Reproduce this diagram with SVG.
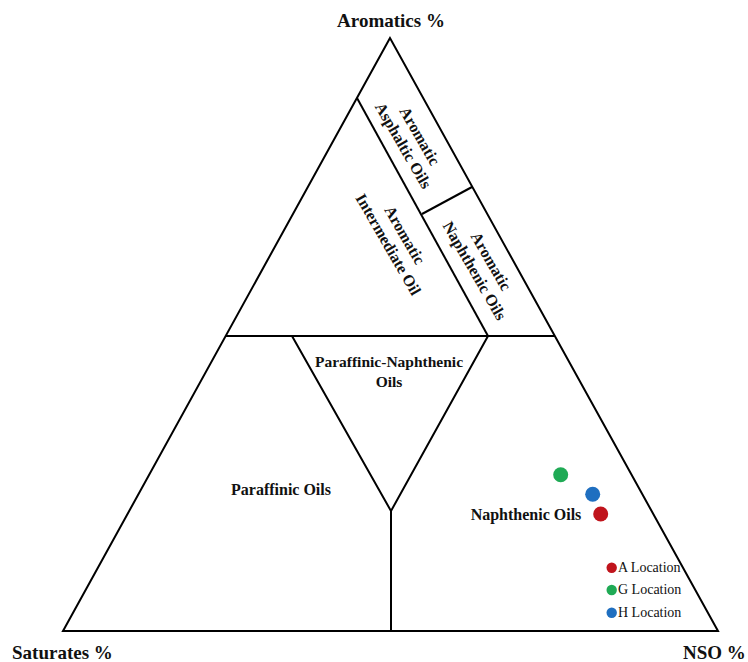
<svg xmlns="http://www.w3.org/2000/svg" width="748" height="662" viewBox="0 0 748 662">
<style>
.ln{stroke:#000;stroke-width:2;fill:none;stroke-linejoin:miter}
.ax{font-family:"Liberation Serif","Times New Roman",serif;font-weight:bold;font-size:19px;fill:#111}
.lb{font-family:"Liberation Serif","Times New Roman",serif;font-weight:bold;font-size:16px;fill:#111;text-anchor:middle}
.lg{font-family:"Liberation Serif","Times New Roman",serif;font-size:14px;fill:#111}
</style>
<rect width="748" height="662" fill="#fff"/>
<g id="connectors">
<polygon class="ln" points="390,38 63,631 718,631"/>
<line class="ln" x1="226" y1="336" x2="555" y2="336"/>
<polyline class="ln" points="292,336 391,511 488,336"/>
<line class="ln" x1="391" y1="511" x2="391" y2="631"/>
<line class="ln" x1="357" y1="98" x2="488" y2="336"/>
<line class="ln" x1="422" y1="214" x2="472" y2="187"/>
</g>
<g id="axis-aromatics"><text class="ax" x="391" y="27" text-anchor="middle">Aromatics %</text></g>
<g id="axis-saturates"><text class="ax" x="12" y="659">Saturates %</text></g>
<g id="axis-nso"><text class="ax" x="683" y="659">NSO %</text></g>
<g id="aromatic-asphaltic" transform="translate(411.7,140.7) rotate(60)">
<text class="lb" x="0" y="-4">Aromatic</text>
<text class="lb" x="0" y="15">Asphaltic Oils</text>
</g>
<g id="aromatic-intermediate" transform="translate(396.6,239.6) rotate(60)">
<text class="lb" x="0" y="-4">Aromatic</text>
<text class="lb" x="0" y="15">Intermediate Oil</text>
</g>
<g id="aromatic-naphthenic" transform="translate(483,266) rotate(60)">
<text class="lb" x="0" y="-4">Aromatic</text>
<text class="lb" x="0" y="15">Naphthenic Oils</text>
</g>
<g id="paraffinic-naphthenic">
<text class="lb" x="389" y="367" style="font-size:15.5px">Paraffinic-Naphthenic</text>
<text class="lb" x="389" y="387" style="font-size:15.5px">Oils</text>
</g>
<g id="paraffinic"><text class="lb" x="281" y="495">Paraffinic Oils</text></g>
<g id="naphthenic"><text class="lb" x="526" y="520">Naphthenic Oils</text></g>
<g id="points">
<circle cx="560.7" cy="474.7" r="7.5" fill="#1faa55"/>
<circle cx="592.7" cy="494.3" r="7.5" fill="#1f6fc0"/>
<circle cx="600.7" cy="514" r="7.5" fill="#c0141c"/>
</g>
<g id="legend">
<circle cx="611.7" cy="567.7" r="5.2" fill="#c0141c"/>
<text class="lg" x="618" y="572">A Location</text>
<circle cx="611.7" cy="590" r="5.2" fill="#1faa55"/>
<text class="lg" x="618" y="594">G Location</text>
<circle cx="611.7" cy="612.7" r="5.2" fill="#1f6fc0"/>
<text class="lg" x="618" y="617">H Location</text>
</g>
</svg>
